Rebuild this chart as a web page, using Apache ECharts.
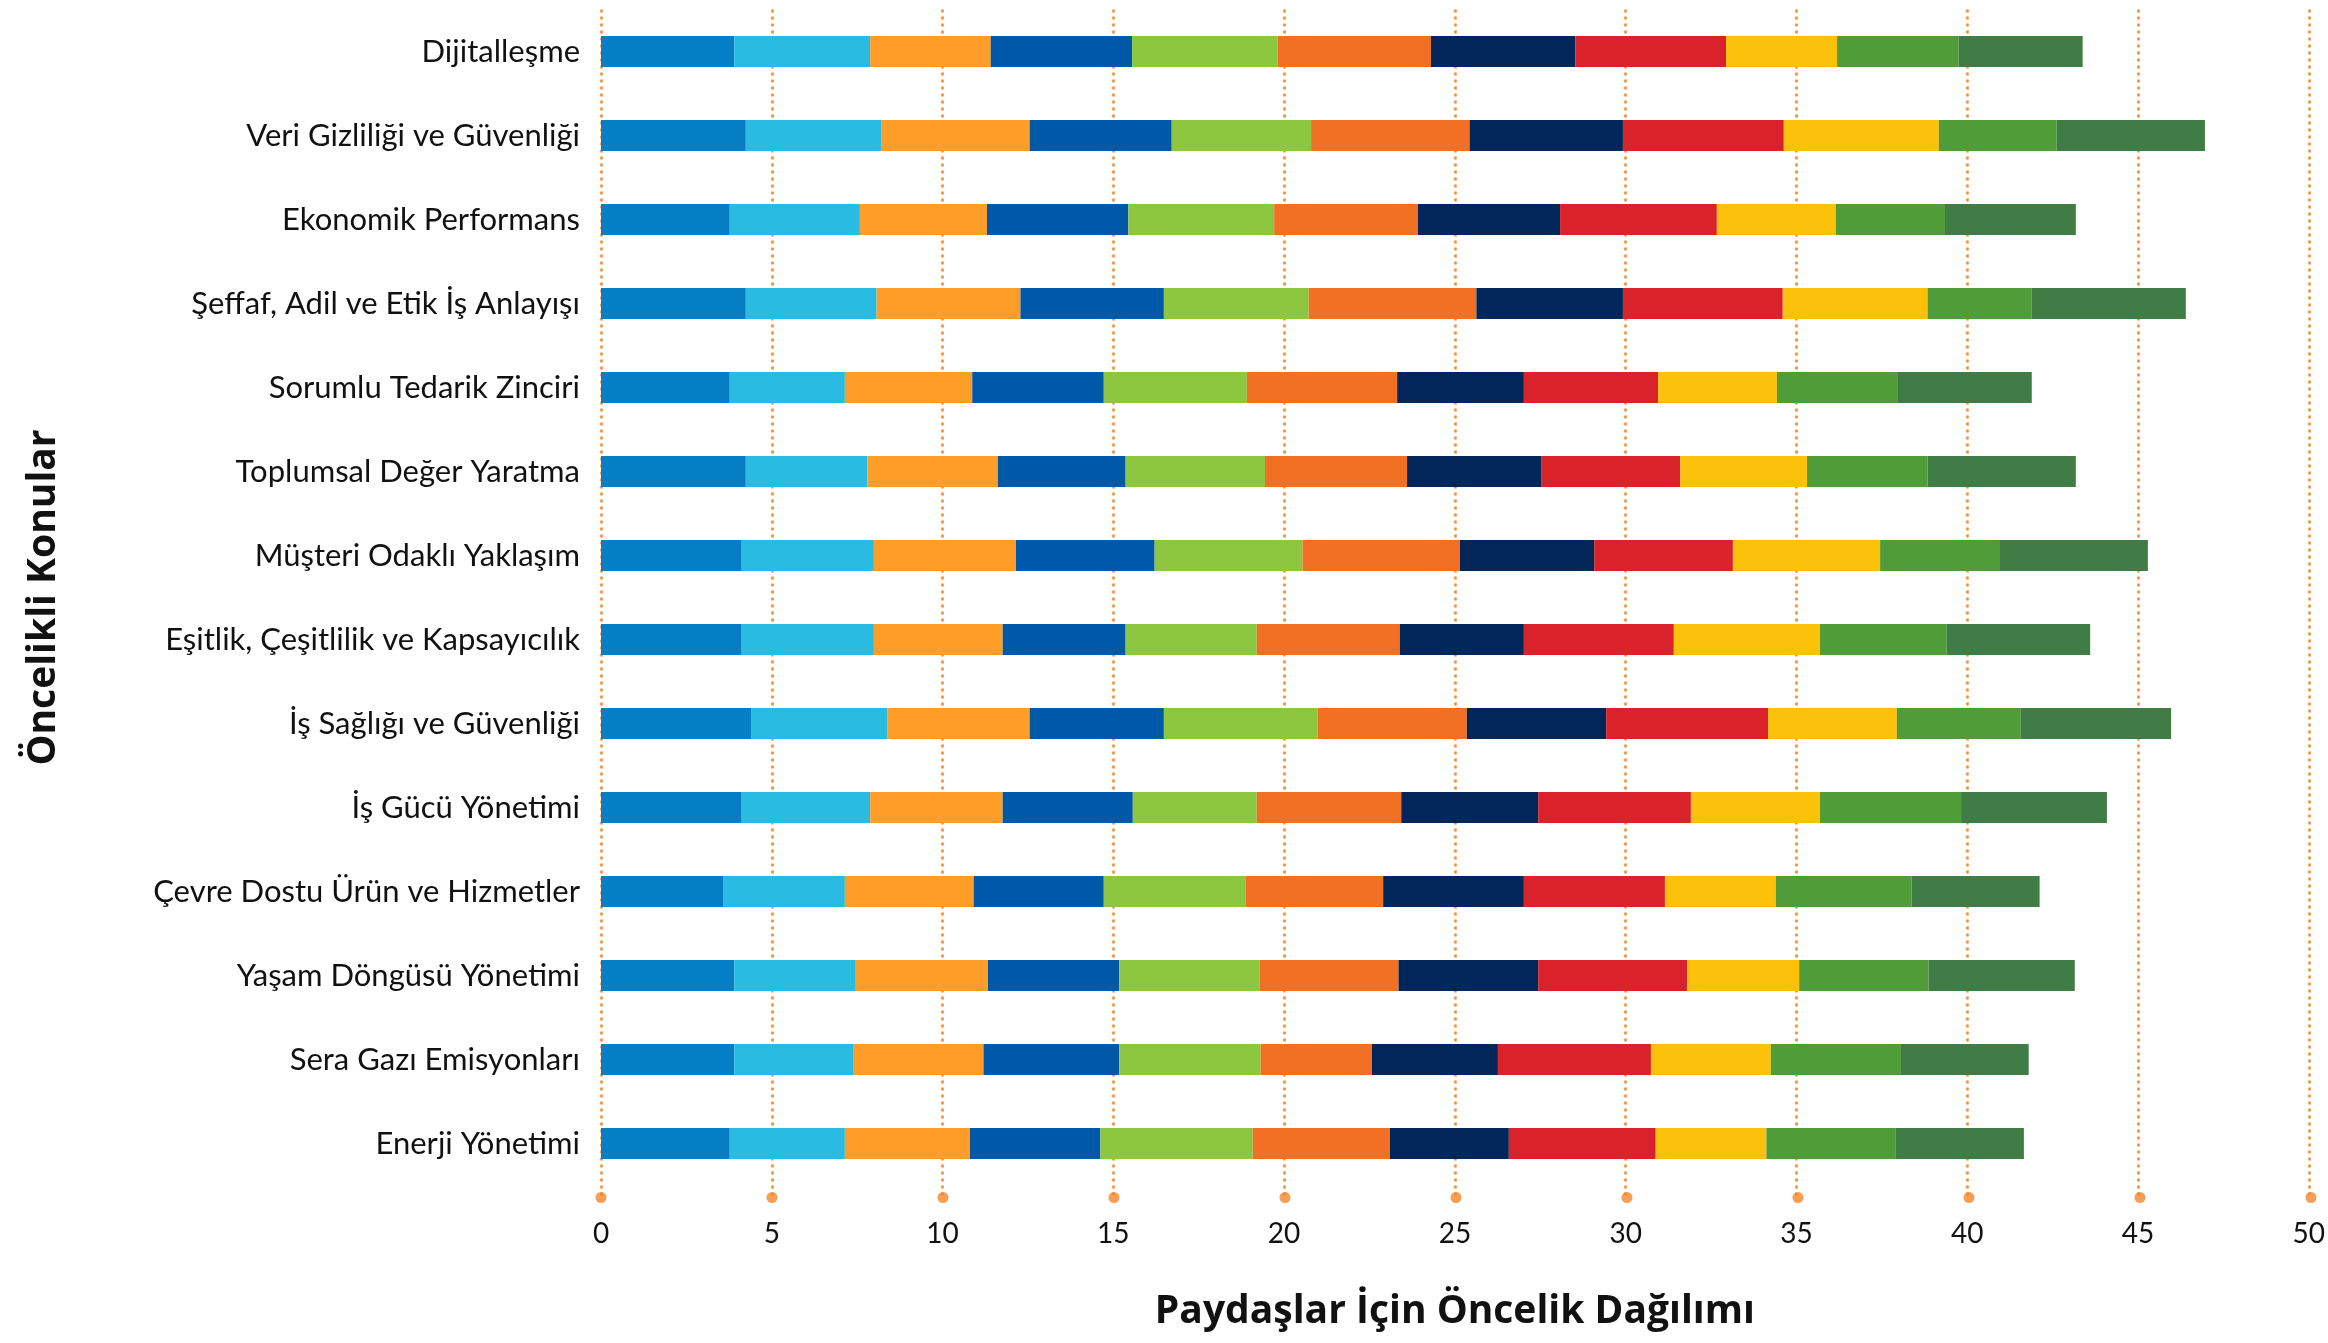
<!DOCTYPE html>
<html>
<head>
<meta charset="utf-8">
<script src="https://cdn.jsdelivr.net/npm/echarts@6/dist/echarts.min.js"></script>
<style>
html,body{margin:0;padding:0;background:#fff;}
#chart{width:2328px;height:1343px;}
</style>
</head>
<body>
<div id="chart"></div>
<script>
const categories = [
  "Dijitalleşme",
  "Veri Gizliliği ve Güvenliği",
  "Ekonomik Performans",
  "Şeffaf, Adil ve Etik İş Anlayışı",
  "Sorumlu Tedarik Zinciri",
  "Toplumsal Değer Yaratma",
  "Müşteri Odaklı Yaklaşım",
  "Eşitlik, Çeşitlilik ve Kapsayıcılık",
  "İş Sağlığı ve Güvenliği",
  "İş Gücü Yönetimi",
  "Çevre Dostu Ürün ve Hizmetler",
  "Yaşam Döngüsü Yönetimi",
  "Sera Gazı Emisyonları",
  "Enerji Yönetimi"
];
const group1  = [3.90, 4.24, 3.77, 4.24, 3.77, 4.24, 4.12, 4.12, 4.41, 4.12, 3.59, 3.90, 3.90, 3.77];
const group2  = [3.98, 3.96, 3.81, 3.83, 3.37, 3.56, 3.87, 3.87, 3.98, 3.76, 3.55, 3.56, 3.50, 3.37];
const group3  = [3.53, 4.35, 3.72, 4.21, 3.73, 3.82, 4.16, 3.77, 4.16, 3.88, 3.77, 3.87, 3.80, 3.66];
const group4  = [4.14, 4.16, 4.14, 4.20, 3.85, 3.74, 4.06, 3.60, 3.93, 3.81, 3.81, 3.84, 3.97, 3.82];
const group5  = [4.26, 4.08, 4.27, 4.24, 4.19, 4.08, 4.33, 3.84, 4.50, 3.63, 4.16, 4.12, 4.14, 4.46];
const group6  = [4.49, 4.64, 4.21, 4.91, 4.40, 4.16, 4.61, 4.19, 4.37, 4.23, 4.02, 4.06, 3.26, 4.02];
const group7  = [4.23, 4.49, 4.16, 4.29, 3.71, 3.94, 3.93, 3.63, 4.08, 4.01, 4.12, 4.09, 3.69, 3.48];
const group8  = [4.41, 4.71, 4.59, 4.68, 3.93, 4.06, 4.06, 4.39, 4.74, 4.47, 4.13, 4.36, 4.48, 4.30];
const group9  = [3.25, 4.54, 3.48, 4.24, 3.48, 3.71, 4.31, 4.28, 3.77, 3.78, 3.25, 3.28, 3.51, 3.24];
const group10 = [3.56, 3.45, 3.20, 3.05, 3.52, 3.53, 3.51, 3.71, 3.63, 4.13, 3.97, 3.79, 3.81, 3.79];
const group11 = [3.63, 4.34, 3.83, 4.51, 3.94, 4.34, 4.33, 4.20, 4.40, 4.27, 3.75, 4.28, 3.74, 3.75];
const tickValues = [0, 5, 10, 15, 20, 25, 30, 35, 40, 45, 50];

const groups = [group1, group2, group3, group4, group5, group6, group7, group8, group9, group10, group11];
const colors = ['#047EC4', '#2ABBE2', '#FE9D27', '#0059A8', '#8DC63F', '#F27023',
                '#01275A', '#DA222B', '#FBC10B', '#4F9C38', '#407D46'];
const gridOrange = '#F5872A';
const fontFamily = 'Lato, "Noto Sans", sans-serif';
const titleFont = '"Open Sans", Lato, sans-serif';

const series = groups.map((g, i) => ({
  name: 'Grup ' + (i + 1),
  type: 'bar',
  stack: 'total',
  xAxisIndex: 0,
  yAxisIndex: 0,
  barWidth: 31,
  itemStyle: { color: colors[i] },
  data: g
}));
series.push({
  type: 'scatter',
  xAxisIndex: 1,
  yAxisIndex: 1,
  symbol: 'circle',
  symbolSize: 11,
  silent: true,
  itemStyle: { color: gridOrange },
  data: tickValues.map(v => [v, 0])
});

const chart = echarts.init(document.getElementById('chart'));
chart.setOption({
  backgroundColor: '#ffffff',
  animation: false,
  grid: [
    { left: 601, right: 17, top: 9.5, height: 1176 },
    { left: 601, right: 17, top: 1197, height: 1 }
  ],
  xAxis: [
    {
      type: 'value',
      gridIndex: 0,
      min: 0, max: 50, interval: 5,
      name: 'Paydaşlar İçin Öncelik Dağılımı',
      nameLocation: 'middle',
      nameGap: 107,
      nameTextStyle: { fontFamily: titleFont, fontWeight: 'bold', fontSize: 39, color: '#111' },
      axisLine: { show: false },
      axisTick: { show: true, length: 12, lineStyle: { color: gridOrange, width: 2.5, type: [3, 4] } },
      axisLabel: { margin: 34, fontFamily: fontFamily, fontSize: 28, color: '#111' },
      splitLine: { show: true, lineStyle: { color: gridOrange, width: 2.5, type: [3, 4] } }
    },
    {
      type: 'value',
      gridIndex: 1,
      min: 0, max: 50, interval: 5,
      show: false
    }
  ],
  yAxis: [
    {
      type: 'category',
      gridIndex: 0,
      data: categories,
      inverse: true,
      name: 'Öncelikli Konular',
      nameLocation: 'middle',
      nameGap: 538,
      nameTextStyle: { fontFamily: titleFont, fontWeight: 'bold', fontSize: 39, color: '#111' },
      axisLine: { show: false },
      axisTick: { show: false },
      axisLabel: { margin: 21, fontFamily: fontFamily, fontSize: 31, color: '#111' },
      splitLine: { show: false }
    },
    {
      type: 'value',
      gridIndex: 1,
      min: -1, max: 1,
      show: false
    }
  ],
  series: series
});
</script>
</body>
</html>
